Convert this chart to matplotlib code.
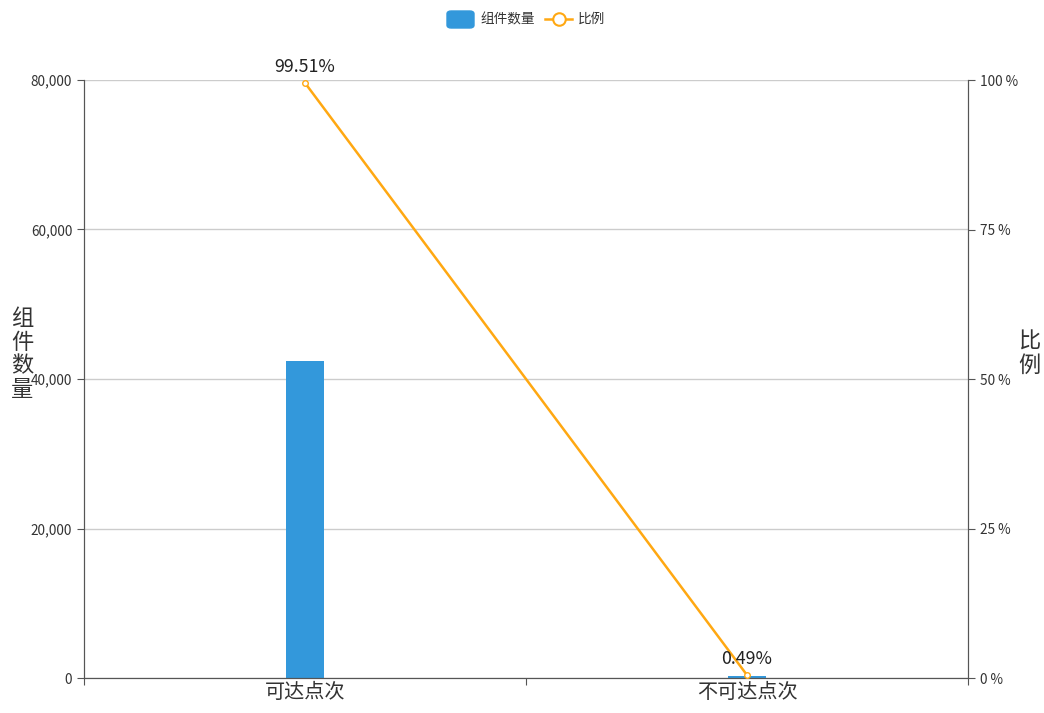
import matplotlib.pyplot as plt
from matplotlib.patches import FancyBboxPatch
from matplotlib.lines import Line2D
from matplotlib.ticker import FuncFormatter

plt.rcParams['font.family'] = ['Noto Sans CJK SC', 'DejaVu Sans']

# data
categories = ['可达点次', '不可达点次']
counts = [42400, 209]
ratios = [99.51, 0.49]
ratio_labels = ['99.51%', '0.49%']

bar_color = '#3398db'
line_color = '#ffa812'
axis_color = '#555555'
text_color = '#333333'

fig = plt.figure(figsize=(10.44, 7.13), dpi=100)
ax = fig.add_axes([84/1044, 35/713, 884/1044, 598/713])
ax2 = ax.twinx()

x = list(range(len(categories)))
ax.bar(x, counts, width=0.086, color=bar_color, zorder=2)
ax.set_xlim(-0.5, 1.5)
ax.set_ylim(0, 80000)
ax.set_yticks([0, 20000, 40000, 60000, 80000])
ax.yaxis.set_major_formatter(FuncFormatter(lambda v, p: f'{int(v):,}'))
ax.grid(axis='y', color='#cccccc', linewidth=1, zorder=0)
ax.set_axisbelow(True)

# category ticks on band boundaries, labels at centers
ax.set_xticks([-0.5, 0.5, 1.5])
ax.set_xticklabels([])
ax.set_xticks(x, minor=True)
ax.set_xticklabels(categories, minor=True, fontsize=14.5, color=text_color)
ax.tick_params(axis='x', which='minor', length=0, pad=3)
ax.tick_params(axis='x', which='major', length=5, color=axis_color)
ax.tick_params(axis='y', length=5, color=axis_color, labelsize=9.8, labelcolor=text_color)

ax2.plot(x, ratios, color=line_color, linewidth=1.8, marker='o', markersize=4,
         markerfacecolor='white', markeredgecolor=line_color, zorder=3)
ax2.set_ylim(0, 100)
ax2.set_yticks([0, 25, 50, 75, 100])
ax2.yaxis.set_major_formatter(FuncFormatter(lambda v, p: f'{int(v)} %'))
ax2.tick_params(axis='y', length=5, color=axis_color, labelsize=9.8, labelcolor=text_color)
for xi, r, lab in zip(x, ratios, ratio_labels):
    ax2.annotate(lab, (xi, r), xytext=(0, 5), textcoords='offset points',
                 ha='center', va='bottom', fontsize=12.8, color='#222222')

for a in (ax, ax2):
    a.spines['top'].set_visible(False)
    for s in ('left', 'right', 'bottom'):
        a.spines[s].set_color(axis_color)

# axis names, stacked vertically
fig.text(22/1044, 1 - 354/713, '组\n件\n数\n量', ha='center', va='center',
         fontsize=16, color=text_color, linespacing=1.04)
fig.text(1029/1044, 1 - 353/713, '比\n例', ha='center', va='center',
         fontsize=16, color=text_color, linespacing=1.04)

# legend
fig.patches.append(FancyBboxPatch((447/1044, 1 - 28/713), 27/1044, 17/713,
                                  boxstyle='round,pad=0,rounding_size=0.004',
                                  transform=fig.transFigure, color=bar_color))
fig.text(480/1044, 1 - 19/713, '组件数量', ha='left', va='center', fontsize=9.8, color=text_color)
fig.lines.append(Line2D([545/1044, 572/1044], [1 - 19/713, 1 - 19/713], transform=fig.transFigure,
                        color=line_color, linewidth=1.8))
fig.lines.append(Line2D([558.5/1044], [1 - 19/713], transform=fig.transFigure, marker='o',
                        markersize=9, markerfacecolor='white', markeredgecolor=line_color,
                        markeredgewidth=1.5, linestyle='none'))
fig.text(578/1044, 1 - 19/713, '比例', ha='left', va='center', fontsize=9.8, color=text_color)

fig.savefig('out.png', dpi=100)
